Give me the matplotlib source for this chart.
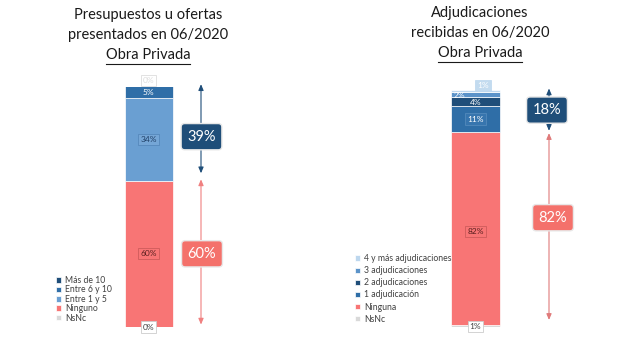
import matplotlib.pyplot as plt
from matplotlib.lines import Line2D

plt.rcParams['font.family'] = ['Lato', 'DejaVu Sans']

# Presupuestos u ofertas presentados (stacked bottom -> top)
pres_labels = ["NsNc", "Ninguno", "Entre 1 y 5", "Entre 6 y 10", "Más de 10"]
pres_values = [0, 60, 34, 5, 0]
pres_colors = ["#D9D9D9", "#F87575", "#6A9FD2", "#2F6EA7", "#1F4E79"]

# Adjudicaciones recibidas (stacked bottom -> top)
adj_labels = ["NsNc", "Ninguna", "1 adjudicación", "2 adjudicaciones",
              "3 adjudicaciones", "4 y más adjudicaciones"]
adj_values = [1, 82, 11, 4, 2, 1]
adj_colors = ["#D9D9D9", "#F87575", "#2F6EA7", "#1F4E79", "#5B93C9", "#BDD7EE"]

W, H = 640, 338
fig = plt.figure(figsize=(6.4, 3.38), dpi=100)
fig.patch.set_facecolor("white")

NAVY = "#1F4E79"
PINK = "#F4716B"


def px(x, y):
    return x / W, 1 - y / H


def title(lines, xc, y0):
    for i, t in enumerate(lines):
        fig.text(*px(xc, y0 + i * 20), t, ha="center", va="center",
                 fontsize=10.5, color="#1a1a1a")
    t = fig.text(*px(xc, y0 + 40), "Obra Privada", ha="center", va="center",
                 fontsize=10.5, color="#1a1a1a")
    fig.canvas.draw()
    bb = t.get_window_extent()
    yl = bb.y0 - 1.5
    fig.add_artist(Line2D([bb.x0 / W, bb.x1 / W], [yl / H, yl / H],
                          transform=fig.transFigure, color="#1a1a1a", lw=0.8))


def seg_label(ax, x, y, txt, tc, fc, ec, alpha=0.8):
    ax.text(x, y, txt, ha="center", va="center", fontsize=6, color=tc,
            clip_on=False,
            bbox=dict(boxstyle="square,pad=0.25", fc=fc, ec=ec, lw=0.6,
                      alpha=alpha))


def sum_box(ax, x, y, txt, fc):
    ax.text(x, y, txt, ha="center", va="center", fontsize=10.5, color="white",
            bbox=dict(boxstyle="round,pad=0.42,rounding_size=0.25", fc=fc,
                      ec="#e8e8e8", lw=1.0))


def arrow(ax, x, y0, y1, c):
    ax.annotate("", xy=(x, y1), xytext=(x, y0), annotation_clip=False,
                arrowprops=dict(arrowstyle="<|-|>,head_length=0.35,head_width=0.15",
                                color=c, lw=0.8, shrinkA=0, shrinkB=0))


def stacked(ax, xc, width, values, colors, labels):
    bottom = 0
    bars = []
    for v, c, l in zip(values, colors, labels):
        b = ax.bar(xc, v, width, bottom=bottom, color=c, label=l,
                   edgecolor="white", linewidth=0.5)
        bars.append(b)
        bottom += v
    return bars


# ---- left panel ----
axl = fig.add_axes([0, 11 / H, 0.5, 240 / H])
axl.set_xlim(0, 320)
axl.set_ylim(0, 240 / 2.44)
axl.axis("off")
bl = stacked(axl, 148.5, 48, pres_values, pres_colors, pres_labels)
cum = [sum(pres_values[:i]) for i in range(len(pres_values) + 1)]
total_l = cum[-1]
seg_label(axl, 148.5, 0, "%d%%" % pres_values[0], "#404040", "white", "#cccccc", 1)
seg_label(axl, 148.5, cum[1] + pres_values[1] / 2, "%d%%" % pres_values[1],
          "#5a1f1f", "#F87575", "#c45555")
seg_label(axl, 148.5, cum[2] + pres_values[2] / 2, "%d%%" % pres_values[2],
          "#1F3F66", "#78A9D8", "#4f82b5")
axl.text(148.5, cum[3] + pres_values[3] / 2 - 0.3, "%d%%" % pres_values[3],
         ha="center", va="center", fontsize=6, color="white")
seg_label(axl, 148.5, total_l + 2, "%d%%" % pres_values[4], "#dddddd", "white", "#bbbbbb", 0.5)

top_l = total_l - cum[2]
ninguno_top = cum[2]
arrow(axl, 201, ninguno_top + 3, total_l + 0.5, NAVY)
arrow(axl, 201, 1, ninguno_top + 0.5, "#F08080")
sum_box(axl, 201.5, ninguno_top + top_l / 2 - 1.5, "%d%%" % top_l, NAVY)
sum_box(axl, 202, ninguno_top / 2, "%d%%" % pres_values[1], PINK)

hl = [b for b in bl][::-1]
axl.legend(hl, [b.get_label() for b in hl], loc="lower left",
           bbox_to_anchor=px(52, 327), bbox_transform=fig.transFigure,
           frameon=False, fontsize=6.2, handlelength=0.6, handleheight=0.6,
           handletextpad=0.4, labelspacing=0.05, borderpad=0, labelcolor="#404040")

# ---- right panel ----
axr = fig.add_axes([0.5, 11 / H, 0.5, 240 / H])
axr.set_xlim(320, 640)
axr.set_ylim(0, 240 / 2.35)
axr.axis("off")
br = stacked(axr, 475.5, 49, adj_values, adj_colors, adj_labels)
cr = [sum(adj_values[:i]) for i in range(len(adj_values) + 1)]
total_r = cr[-1]
seg_label(axr, 475.5, cr[0] + 0.3, "%d%%" % adj_values[0], "#404040", "white", "#cccccc", 1)
seg_label(axr, 475.5, cr[1] + adj_values[1] / 2 - 1.5, "%d%%" % adj_values[1],
          "#5a1f1f", "#F87575", "#c45555")
seg_label(axr, 475.5, cr[2] + adj_values[2] / 2, "%d%%" % adj_values[2],
          "white", "#3a78b0", "#5a8fc0")
axr.text(475.5, cr[3] + adj_values[3] / 2 - 0.6, "%d%%" % adj_values[3],
         ha="center", va="center", fontsize=6, color="white")
axr.text(459, cr[4] + 0.6, "%d%%" % adj_values[4],
         ha="center", va="center", fontsize=6, color="white")
seg_label(axr, 483, total_r + 1.8, "%d%%" % adj_values[5], "white", "#BDD7EE", "#BDD7EE", 0.9)

ninguna_top = cr[2]
top_r = total_r - cr[2]
arrow(axr, 549, ninguna_top + 0.5, total_r + 0.5, NAVY)
arrow(axr, 549, 3, ninguna_top - 0.5, "#E07A7A")
sum_box(axr, 547, ninguna_top + top_r / 2 + 0.3, "%d%%" % top_r, NAVY)
sum_box(axr, 553, ninguna_top / 2 + 5, "%d%%" % adj_values[1], PINK)

hr = [b for b in br][::-1]
axr.legend(hr, [b.get_label() for b in hr], loc="lower left",
           bbox_to_anchor=px(351, 328), bbox_transform=fig.transFigure,
           frameon=False, fontsize=6.2, handlelength=0.6, handleheight=0.6,
           handletextpad=0.4, labelspacing=0.36, borderpad=0, labelcolor="#404040")

title(["Presupuestos u ofertas", "presentados en 06/2020"], 148, 15)
title(["Adjudicaciones", "recibidas en 06/2020"], 480, 13)

fig.savefig("out.png", dpi=100, facecolor="white")
